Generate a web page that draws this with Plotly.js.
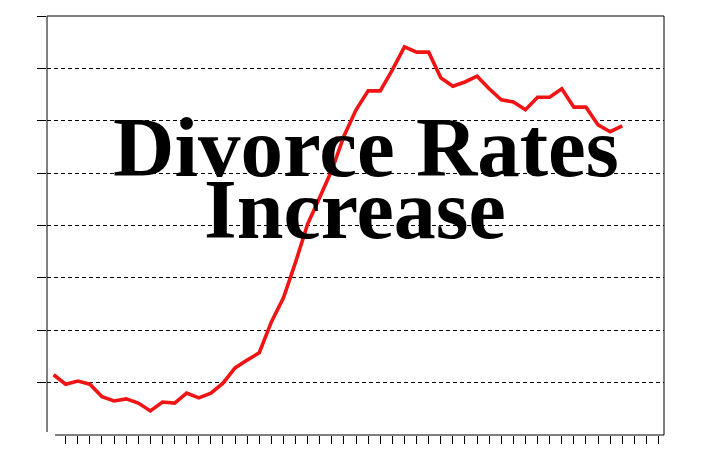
<!DOCTYPE html>
<html>
<head>
<meta charset="utf-8">
<script src="https://cdn.plot.ly/plotly-3.0.1.min.js"></script>
<style>
  html, body { margin: 0; padding: 0; background: #ffffff; }
  #chart { width: 703px; height: 462px; }
</style>
</head>
<body>
<div id="chart"></div>
<script>
// ---- data ----
var years = [1950, 1951, 1952, 1953, 1954, 1955, 1956, 1957, 1958, 1959,
             1960, 1961, 1962, 1963, 1964, 1965, 1966, 1967, 1968, 1969,
             1970, 1971, 1972, 1973, 1974, 1975, 1976, 1977, 1978, 1979,
             1980, 1981, 1982, 1983, 1984, 1985, 1986, 1987, 1988, 1989,
             1990, 1991, 1992, 1993, 1994, 1995, 1996, 1997];
var rates = [1.15, 0.97, 1.03, 0.97, 0.73, 0.65, 0.69, 0.61, 0.46, 0.63,
             0.61, 0.80, 0.71, 0.80, 0.99, 1.28, 1.43, 1.57, 2.16, 2.62,
             3.30, 4.03, 4.54, 5.06, 5.71, 6.21, 6.57, 6.57, 6.97, 7.41,
             7.31, 7.31, 6.82, 6.66, 6.74, 6.85, 6.61, 6.40, 6.36, 6.21,
             6.45, 6.45, 6.61, 6.26, 6.26, 5.92, 5.79, 5.90];
var tickYears = [];
for (var yr = 1951; yr <= 2000; yr++) { tickYears.push(yr); }
var gridLevels = [1, 2, 3, 4, 5, 6, 7, 8];
var titleLine1 = "Divorce Rates";
var titleLine2 = "Increase";

var trace = {
  x: years,
  y: rates,
  type: 'scatter',
  mode: 'lines',
  line: { color: '#f01414', width: 3.6 },
  hoverinfo: 'skip',
  showlegend: false
};

var layout = {
  width: 703,
  height: 462,
  margin: { l: 47, r: 39, t: 16, b: 27, pad: 0 },
  paper_bgcolor: '#ffffff',
  plot_bgcolor: '#ffffff',
  showlegend: false,
  xaxis: {
    range: [1949.455, 2000.45],
    tickmode: 'array',
    tickvals: tickYears,
    ticktext: tickYears.map(function () { return ''; }),
    ticks: 'outside',
    ticklen: 8,
    tickwidth: 1,
    tickcolor: '#000000',
    showticklabels: false,
    showgrid: false,
    zeroline: false,
    showline: false,
    fixedrange: true
  },
  yaxis: {
    range: [0, 8],
    tickmode: 'array',
    tickvals: gridLevels,
    ticks: 'outside',
    ticklen: 9,
    tickwidth: 1,
    tickcolor: '#000000',
    showticklabels: false,
    showgrid: true,
    gridcolor: '#000000',
    gridwidth: 1,
    griddash: '4px,3px',
    zeroline: false,
    showline: false,
    fixedrange: true
  },
  shapes: [
    { type: 'line', xref: 'paper', yref: 'paper', x0: 0, x1: 0, y0: 0.007, y1: 1,
      line: { color: '#000000', width: 1 } },
    { type: 'line', xref: 'paper', yref: 'paper', x0: 0, x1: 1, y0: 1, y1: 1,
      line: { color: '#000000', width: 1 } },
    { type: 'line', xref: 'paper', yref: 'paper', x0: 1, x1: 1, y0: 0, y1: 1,
      line: { color: '#000000', width: 1 } },
    { type: 'line', xref: 'paper', yref: 'paper', x0: 0.013, x1: 1, y0: 0, y1: 0,
      line: { color: '#000000', width: 1 } }
  ],
  annotations: [
    { text: titleLine1, xref: 'paper', yref: 'paper', x: 0.517, y: 0.688,
      xanchor: 'center', yanchor: 'middle', showarrow: false,
      font: { family: 'Liberation Serif, Times New Roman, serif', size: 85, color: '#000000', weight: 'bold' } },
    { text: titleLine2, xref: 'paper', yref: 'paper', x: 0.499, y: 0.537,
      xanchor: 'center', yanchor: 'middle', showarrow: false,
      font: { family: 'Liberation Serif, Times New Roman, serif', size: 84, color: '#000000', weight: 'bold' } }
  ]
};

Plotly.newPlot('chart', [trace], layout, { staticPlot: true, displayModeBar: false });
</script>
</body>
</html>
